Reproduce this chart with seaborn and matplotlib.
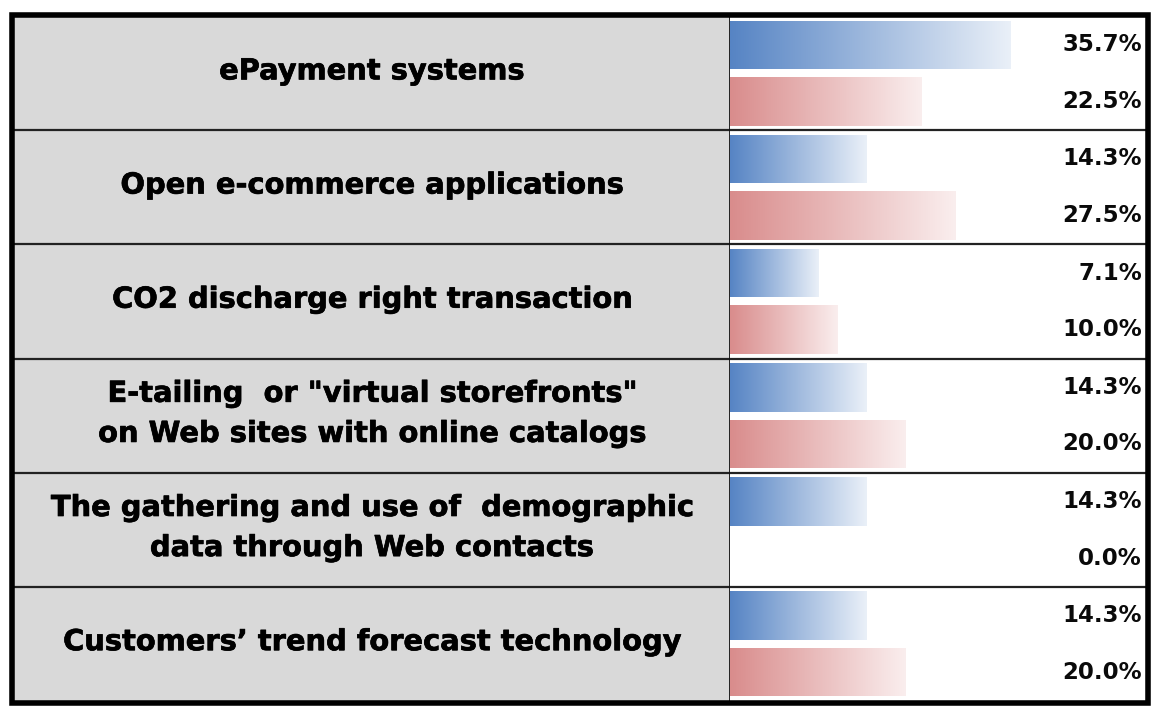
import numpy as np
import pandas as pd
import matplotlib
matplotlib.use("Agg")
import matplotlib.pyplot as plt
import matplotlib.patheffects as pe
from matplotlib.colors import LinearSegmentedColormap
import seaborn as sns

# ---------------- data ----------------
categories = [
    "ePayment systems",
    "Open e-commerce applications",
    "CO2 discharge right transaction",
    "E-tailing  or \"virtual storefronts\"\non Web sites with online catalogs",
    "The gathering and use of  demographic\ndata through Web contacts",
    "Customers\u2019 trend forecast technology",
]
series_names = ["Series 1", "Series 2"]
series1_values = [35.7, 14.3, 7.1, 14.3, 14.3, 14.3]
series2_values = [22.5, 27.5, 10.0, 20.0, 0.0, 20.0]

# ---------------- style ----------------
MIN_LEN = 6.0          # minimum data-bar length (Excel-style data bars)
X_MAX = 61.8
BLUE_START, BLUE_END = "#5684c4", "#eaf0f8"
RED_START, RED_END = "#d98c8c", "#faeeee"
GREY = "#d9d9d9"

rows = []
for cat, v1, v2 in zip(categories, series1_values, series2_values):
    rows.append({"category": cat, "series": series_names[0], "value": v1})
    rows.append({"category": cat, "series": series_names[1], "value": v2})
df = pd.DataFrame(rows)
df["length"] = np.where(df["value"] > 0, df["value"] + MIN_LEN, 0.0)

sns.set_theme(style="white")
plt.rcParams["font.family"] = ["DejaVu Sans"]

W, H = 1165, 717
fig = plt.figure(figsize=(W / 100, H / 100), dpi=100)
fig.patch.set_facecolor("white")

y0, y1 = 16, 701
x_left0, x_mid, x_right = 13, 730, 1146
ax_l = fig.add_axes([x_left0 / W, 1 - y1 / H, (x_mid - x_left0) / W, (y1 - y0) / H])
ax_r = fig.add_axes([x_mid / W, 1 - y1 / H, (x_right - x_mid) / W, (y1 - y0) / H])

# ---- right: bars ----
sns.barplot(data=df, y="category", x="length", hue="series", order=categories,
            hue_order=series_names, orient="h", width=0.99, gap=0.14,
            palette=[BLUE_START, RED_START], legend=False, ax=ax_r,
            edgecolor="none", linewidth=0)
ax_r.set_xlim(0, X_MAX)
ax_r.set_ylim(len(categories) - 0.5, -0.5)

cmaps = [LinearSegmentedColormap.from_list("b", [BLUE_START, BLUE_END]),
         LinearSegmentedColormap.from_list("r", [RED_START, RED_END])]
grad = np.linspace(0, 1, 256).reshape(1, -1)
for i, container in enumerate(ax_r.containers):
    vals = series1_values if i == 0 else series2_values
    for patch, v in zip(container.patches, vals):
        x, y, w, h = patch.get_x(), patch.get_y(), patch.get_width(), patch.get_height()
        if w > 0:
            im = ax_r.imshow(grad, cmap=cmaps[i], aspect="auto",
                             extent=[x, x + w, y + h, y], zorder=2, interpolation="bilinear")
            im.set_clip_path(patch)
        patch.set_facecolor("none")
        ax_r.text(0.99, y + h / 2, f"{v:.1f}%", transform=ax_r.get_yaxis_transform(),
                  ha="right", va="center", fontsize=16.5, fontweight="bold",
                  color="#0a0a0a", zorder=3)
ax_r.set_xlim(0, X_MAX)
ax_r.set_ylim(len(categories) - 0.5, -0.5)
ax_r.set_xticks([])
ax_r.set_yticks([])
ax_r.set_xlabel("")
ax_r.set_ylabel("")
for k in range(1, len(categories)):
    ax_r.axhline(k - 0.5, color="#222222", lw=1.6, zorder=4)
for s in ax_r.spines.values():
    s.set_visible(False)

# ---- left: labels ----
ax_l.set_facecolor(GREY)
ax_l.set_xlim(0, 1)
ax_l.set_ylim(len(categories) - 0.5, -0.5)
for k, cat in enumerate(categories):
    ax_l.text(0.5, k - 0.015, cat, ha="center", va="center", fontsize=20.8,
              fontweight="bold", color="black", linespacing=1.55,
              path_effects=[pe.withStroke(linewidth=0.5, foreground="black")])
for k in range(1, len(categories)):
    ax_l.axhline(k - 0.5, color="#222222", lw=1.6)
ax_l.set_xticks([])
ax_l.set_yticks([])
for s in ax_l.spines.values():
    s.set_visible(False)
ax_l.axvline(1, color="#111111", lw=2.0, clip_on=False)

# outer thick border
fig.add_artist(plt.Rectangle((12 / W, 1 - 703 / H), (1148 - 12) / W, (703 - 15) / H,
                             transform=fig.transFigure, fill=False,
                             edgecolor="black", linewidth=4, zorder=10))

fig.savefig("out.png", dpi=100, facecolor="white")
